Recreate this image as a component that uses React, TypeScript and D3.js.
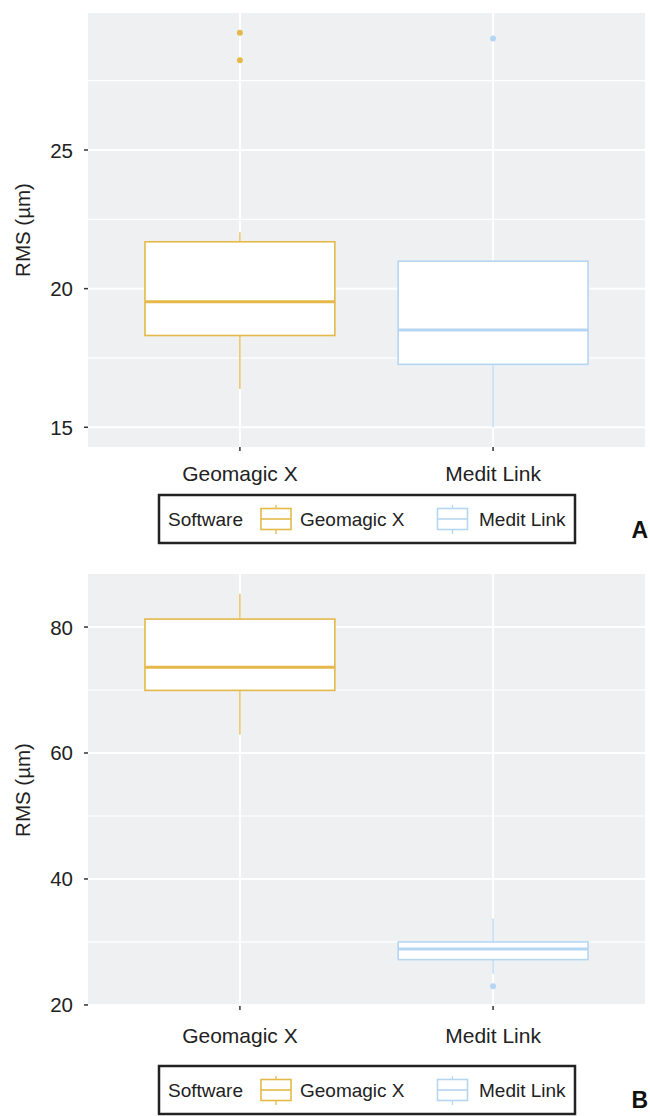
import * as d3 from 'd3';

const categories = ['Geomagic X', 'Medit Link'];
const colors = ['#E4B94A', '#B5D6F2'];

// Panel A (RMS, µm)
const lowA = [16.38, 15.0];
const q1A = [18.31, 17.27];
const medA = [19.53, 18.51];
const q3A = [21.69, 20.99];
const highA = [22.03, 20.99];
const outliersA = [[29.23, 28.24], [29.02]];
const ticksA = [15, 20, 25];
const minorA = [17.5, 22.5, 27.5];

// Panel B (RMS, µm)
const lowB = [62.94, 24.95];
const q1B = [69.94, 27.2];
const medB = [73.62, 28.9];
const q3B = [81.26, 30.0];
const highB = [85.3, 33.73];
const outliersB = [[], [22.95]];
const ticksB = [20, 40, 60, 80];
const minorB = [30, 50, 70];

const FONT = "'Liberation Sans', Arial, Helvetica, sans-serif";
const WIDTH = 650;
const HEIGHT = 1116;
const PLOT_LEFT = 88;
const PLOT_RIGHT = 645;

interface PanelProps {
  top: number;
  bottom: number;
  low: number[];
  q1: number[];
  med: number[];
  q3: number[];
  high: number[];
  outliers: number[][];
  ticks: number[];
  minor: number[];
  xLabelY: number;
  legendTop: number;
  letter: string;
  letterY: number;
}

function Panel({ top, bottom, low, q1, med, q3, high, outliers, ticks, minor, xLabelY, legendTop, letter, letterY }: PanelProps) {
  // y domain: data extent + 5% on each side (ggplot default)
  const allVals = [...low, ...high, ...outliers.flat()];
  const lo = d3.min(allVals) ?? 0;
  const hi = d3.max(allVals) ?? 1;
  const pad = (hi - lo) * 0.05;
  const y = d3.scaleLinear().domain([lo - pad, hi + pad]).range([bottom, top]);
  // discrete x: 0.6 units of padding at each end
  const x = d3.scalePoint<string>().domain(categories).range([PLOT_LEFT, PLOT_RIGHT]).padding(0.6);
  const boxW = x.step() * 0.75;

  const legendH = 48;
  const lcy = legendTop + legendH / 2;
  const legendItems = [
    { label: categories[0], kx: 261, tx: 300 },
    { label: categories[1], kx: 437.5, tx: 479 },
  ];

  return (
    <g>
      <rect x={PLOT_LEFT} y={top} width={PLOT_RIGHT - PLOT_LEFT} height={bottom - top} fill="#EFF0F2" />
      {minor.map((t) => (
        <line key={`mi${t}`} x1={PLOT_LEFT} x2={PLOT_RIGHT} y1={y(t)} y2={y(t)} stroke="#fff" strokeWidth={1.2} />
      ))}
      {ticks.map((t) => (
        <line key={`ma${t}`} x1={PLOT_LEFT} x2={PLOT_RIGHT} y1={y(t)} y2={y(t)} stroke="#fff" strokeWidth={2} />
      ))}
      {categories.map((c) => (
        <line key={`v${c}`} x1={x(c)} x2={x(c)} y1={top} y2={bottom} stroke="#fff" strokeWidth={2} />
      ))}

      {/* y axis */}
      {ticks.map((t) => (
        <g key={`yt${t}`}>
          <line x1={84} x2={88} y1={y(t)} y2={y(t)} stroke="#333" strokeWidth={1.5} />
          <text x={73} y={y(t)} textAnchor="end" dominantBaseline="central" fontSize={20.5} fill="#222" fontFamily={FONT}>
            {t}
          </text>
        </g>
      ))}
      <text
        transform={`translate(22,${(top + bottom) / 2}) rotate(-90)`}
        textAnchor="middle"
        dominantBaseline="central"
        fontSize={20.5}
        fill="#222"
        fontFamily={FONT}
      >
        RMS (µm)
      </text>

      {/* x axis */}
      {categories.map((c) => (
        <g key={`xt${c}`}>
          <line x1={x(c)} x2={x(c)} y1={bottom} y2={bottom + 4} stroke="#333" strokeWidth={1.5} />
          <text x={x(c)} y={xLabelY} textAnchor="middle" dominantBaseline="central" fontSize={21} fill="#222" fontFamily={FONT}>
            {c}
          </text>
        </g>
      ))}

      {/* boxplots */}
      {categories.map((c, i) => {
        const cx = x(c) ?? 0;
        const col = colors[i];
        return (
          <g key={`box${c}`}>
            <line x1={cx} x2={cx} y1={y(q3[i])} y2={y(high[i])} stroke={col} strokeWidth={1.3} />
            <line x1={cx} x2={cx} y1={y(q1[i])} y2={y(low[i])} stroke={col} strokeWidth={1.3} />
            <rect
              x={cx - boxW / 2}
              y={y(q3[i])}
              width={boxW}
              height={y(q1[i]) - y(q3[i])}
              fill="#fff"
              stroke={col}
              strokeWidth={1.6}
            />
            <line x1={cx - boxW / 2} x2={cx + boxW / 2} y1={y(med[i])} y2={y(med[i])} stroke={col} strokeWidth={3} />
            {outliers[i].map((o, j) => (
              <circle key={j} cx={cx} cy={y(o)} r={3} fill={col} />
            ))}
          </g>
        );
      })}

      {/* legend */}
      <rect x={159} y={legendTop} width={416} height={legendH} fill="#fff" stroke="#222" strokeWidth={2.5} />
      <text x={168} y={lcy} dominantBaseline="central" fontSize={19} fill="#222" fontFamily={FONT}>
        Software
      </text>
      {legendItems.map((it, i) => (
        <g key={`lg${it.label}`}>
          <line x1={it.kx + 15} x2={it.kx + 15} y1={lcy - 14} y2={lcy + 15} stroke={colors[i]} strokeWidth={1.3} />
          <rect x={it.kx} y={lcy - 10.5} width={30} height={21} fill="#fff" stroke={colors[i]} strokeWidth={1.6} />
          <line x1={it.kx} x2={it.kx + 30} y1={lcy} y2={lcy} stroke={colors[i]} strokeWidth={1.6} />
          <text x={it.tx} y={lcy} dominantBaseline="central" fontSize={19} fill="#222" fontFamily={FONT}>
            {it.label}
          </text>
        </g>
      ))}
      <text x={648} y={letterY} textAnchor="end" dominantBaseline="central" fontSize={23} fontWeight="bold" fill="#111" fontFamily={FONT}>
        {letter}
      </text>
    </g>
  );
}

export default function App() {
  return (
    <div style={{ position: 'absolute', left: 0, top: 0 }}>
      <svg width={WIDTH} height={HEIGHT} viewBox={`0 0 ${WIDTH} ${HEIGHT}`} style={{ display: 'block', background: '#fff' }}>
        <Panel
          top={13}
          bottom={447}
          low={lowA}
          q1={q1A}
          med={medA}
          q3={q3A}
          high={highA}
          outliers={outliersA}
          ticks={ticksA}
          minor={minorA}
          xLabelY={473}
          legendTop={495}
          letter="A"
          letterY={530}
        />
        <Panel
          top={574}
          bottom={1006}
          low={lowB}
          q1={q1B}
          med={medB}
          q3={q3B}
          high={highB}
          outliers={outliersB}
          ticks={ticksB}
          minor={minorB}
          xLabelY={1035}
          legendTop={1066}
          letter="B"
          letterY={1100}
        />
      </svg>
    </div>
  );
}
